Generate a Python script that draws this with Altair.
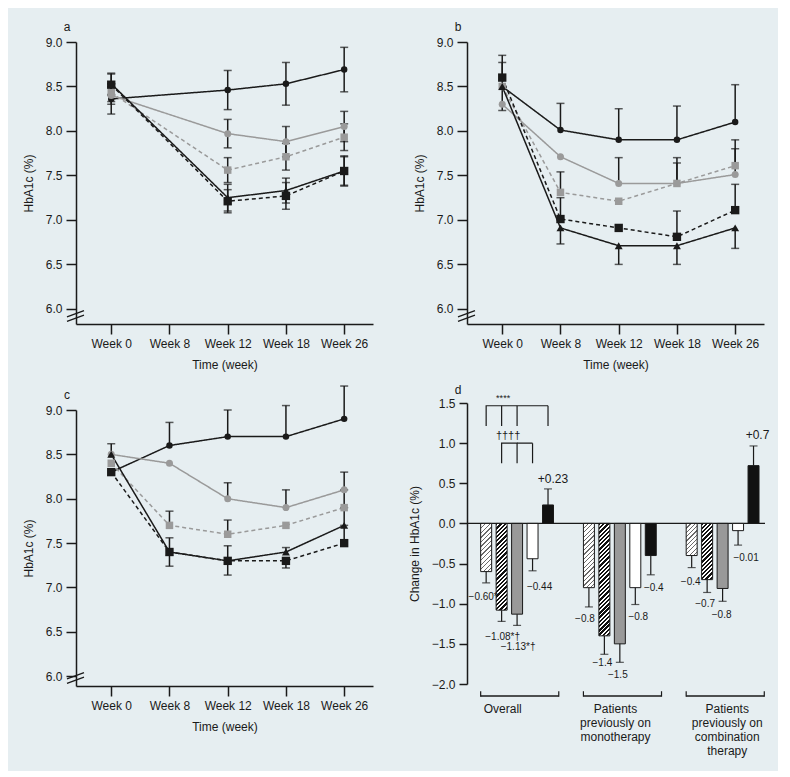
import altair as alt
import pandas as pd

# ---------------- data ----------------
WEEKS = ["Week 0", "Week 8", "Week 12", "Week 18", "Week 26"]
SERIES = ["S1", "S2", "S3", "S4", "S5"]
Y_TICKS = [6.0, 6.5, 7.0, 7.5, 8.0, 8.5, 9.0]

# panel a (no week 8 measurement)
A_MEAN = [
    [8.36, None, 8.46, 8.53, 8.69],
    [8.40, None, 7.97, 7.88, 8.05],
    [8.43, None, 7.56, 7.71, 7.93],
    [8.53, None, 7.25, 7.33, 7.55],
    [8.52, None, 7.21, 7.27, 7.55],
]
A_ERR_UP = [
    [0.17, 0, 0.22, 0.24, 0.25],
    [0.10, 0, 0.16, 0.17, 0.17],
    [0.10, 0, 0.14, 0.15, 0.15],
    [0.12, 0, 0.15, 0.14, 0.16],
    [0.12, 0, 0.13, 0.15, 0.17],
]
A_ERR_DN = A_ERR_UP

# panel b
B_MEAN = [
    [8.50, 8.01, 7.90, 7.90, 8.10],
    [8.30, 7.71, 7.41, 7.41, 7.51],
    [8.50, 7.31, 7.21, 7.41, 7.61],
    [8.50, 6.91, 6.71, 6.71, 6.91],
    [8.60, 7.01, 6.91, 6.81, 7.11],
]
B_ERR_UP = [
    [0.35, 0.30, 0.35, 0.38, 0.42],
    [0, 0, 0.29, 0.29, 0.39],
    [0, 0.23, 0, 0.23, 0.19],
    [0, 0, 0, 0, 0],
    [0.17, 0.24, 0, 0.29, 0.29],
]
B_ERR_DN = [
    [0, 0, 0, 0, 0],
    [0, 0, 0, 0, 0],
    [0, 0, 0, 0, 0],
    [0.27, 0.18, 0.21, 0.21, 0.23],
    [0, 0, 0, 0, 0],
]

# panel c
C_MEAN = [
    [8.30, 8.60, 8.70, 8.70, 8.90],
    [8.50, 8.40, 8.00, 7.90, 8.10],
    [8.40, 7.70, 7.60, 7.70, 7.90],
    [8.50, 7.40, 7.30, 7.40, 7.70],
    [8.30, 7.40, 7.30, 7.30, 7.50],
]
C_ERR_UP = [
    [0, 0.26, 0.30, 0.35, 0.37],
    [0.12, 0, 0.18, 0.20, 0.20],
    [0, 0.16, 0.16, 0, 0.20],
    [0, 0.16, 0.17, 0.05, 0.20],
    [0, 0, 0, 0, 0.20],
]
C_ERR_DN = [
    [0, 0, 0, 0, 0],
    [0, 0, 0, 0, 0],
    [0, 0, 0, 0, 0],
    [0, 0.16, 0.16, 0, 0],
    [0, 0, 0, 0.08, 0],
]

# panel d
GROUPS = ["Overall", "Mono", "Combo"]
GROUP_LABELS = ["Overall", "Patients\npreviously on\nmonotherapy",
                "Patients\npreviously on\ncombination\ntherapy"]
BARS = ["B1", "B2", "B3", "B4", "B5"]
D_OVERALL = [-0.60, -1.08, -1.13, -0.44, 0.23]
D_OVERALL_ERR = [0.14, 0.14, 0.14, 0.15, 0.20]
D_OVERALL_LABELS = ["\u22120.60*", "\u22121.08*\u2020", "\u22121.13*\u2020", "\u22120.44", "+0.23"]
D_MONO = [-0.80, -1.40, -1.50, -0.80, -0.40]
D_MONO_ERR = [0.24, 0.23, 0.23, 0.21, 0.24]
D_MONO_LABELS = ["\u22120.8", "\u22121.4", "\u22121.5", "\u22120.8", "\u22120.4"]
D_COMBO = [-0.40, -0.70, -0.81, -0.09, 0.72]
D_COMBO_ERR = [0.15, 0.16, 0.16, 0.18, 0.245]
D_COMBO_LABELS = ["\u22120.4", "\u22120.7", "\u22120.8", "\u22120.01", "+0.7"]

# ---------------- styles ----------------
BG = "#E6EEF1"
INK = "#1a1a1a"
GRAY = "#9a9a9a"
FONT = "Liberation Sans"
SERIES_COLORS = [INK, GRAY, GRAY, INK, INK]
SERIES_SHAPES = ["circle", "circle", "square", "triangle-up", "square"]
SERIES_DASH = [[1, 0], [1, 0], [4, 3], [1, 0], [4, 3]]
SERIES_SIZES = [42, 70, 45, 50, 45]

PANEL_W = 297
D_W, D_H = 298, 281

# label offsets (px) relative to bar centre / error-bar end
LBL_OFF = {
    "Overall": [(-3, 14), (1, 16), (1, 22), (7, 16), (5, -10)],
    "Mono": [(-4, 12), (-2, 9), (-2, 13), (3, 12), (3, 13)],
    "Combo": [(-1, 14), (-2, 12), (-1, 14), (8, 13), (4, -11)],
}
GROUP_LABEL_DX = [-17, -7, 2]


def one_row():
    return pd.DataFrame({"_": [0]})


def line_panel(letter, means, ups, dns, y_lo, height):
    rows, caps = [], []
    for si, s in enumerate(SERIES):
        for wi, w in enumerate(WEEKS):
            m = means[si][wi]
            if m is None:
                continue
            u, d = ups[si][wi], dns[si][wi]
            rows.append({"week": w, "idx": wi, "series": s, "mean": m,
                         "lo": round(m - d, 3), "hi": round(m + u, 3)})
            if u > 0:
                caps.append({"week": w, "cap": round(m + u, 3)})
            if d > 0:
                caps.append({"week": w, "cap": round(m - d, 3)})
    df = pd.DataFrame(rows)
    cdf = pd.DataFrame(caps)

    xs = alt.Scale(domain=WEEKS, type="point", padding=0.55, align=0.55)
    ys = alt.Scale(domain=[y_lo, 9.0], nice=False, zero=False)
    xaxis = alt.Axis(title="Time (week)", labelAngle=0)
    yaxis = alt.Axis(title="HbA1c (%)", values=Y_TICKS, format=".1f")
    X = alt.X("week:N", scale=xs, sort=WEEKS, axis=xaxis)

    def Y(f):
        return alt.Y(f, type="quantitative", scale=ys, axis=yaxis)

    color = alt.Color("series:N", scale=alt.Scale(domain=SERIES, range=SERIES_COLORS), legend=None)

    lines = alt.Chart(df).mark_line(strokeWidth=1.5).encode(
        x=X, y=Y("mean"), color=color, detail="series:N",
        order=alt.Order("idx:Q"),
        strokeDash=alt.StrokeDash("series:N", scale=alt.Scale(domain=SERIES, range=SERIES_DASH), legend=None),
    )
    err = alt.Chart(df).transform_filter("datum.hi > datum.lo").mark_rule(
        color=INK, strokeWidth=1.5).encode(x=X, y=Y("lo"), y2="hi:Q")
    capm = alt.Chart(cdf).mark_tick(color=INK, thickness=1.5, size=8).encode(x=X, y=Y("cap"))
    pts = alt.Chart(df).mark_point(filled=True, opacity=1).encode(
        x=X, y=Y("mean"), color=color,
        shape=alt.Shape("series:N", scale=alt.Scale(domain=SERIES, range=SERIES_SHAPES), legend=None),
        size=alt.Size("series:N", scale=alt.Scale(domain=SERIES, range=SERIES_SIZES), legend=None),
    )
    brk1 = alt.Chart(one_row()).mark_rule(color=INK, strokeWidth=1.3).encode(
        x=alt.value(-9), x2=alt.value(8), y=alt.datum(y_lo + 0.03), y2=alt.datum(y_lo + 0.10))
    brk2 = alt.Chart(one_row()).mark_rule(color=INK, strokeWidth=1.3).encode(
        x=alt.value(-9), x2=alt.value(8), y=alt.datum(y_lo + 0.08), y2=alt.datum(y_lo + 0.15))
    lab = alt.Chart(one_row()).mark_text(text=letter, fontSize=12, color=INK,
                                         align="center", baseline="middle").encode(
        x=alt.value(-9), y=alt.value(-15))
    return alt.layer(lines, err, capm, pts, brk1, brk2, lab).properties(width=PANEL_W, height=height)


def hatch_fill(h_px, w_px, period, frac, line_color, bg_color):
    w, h = w_px, max(h_px, 1.0)
    k = (w + h) / (w * w + h * h)
    n = max(1, int(round((w + h) / period)))
    stops = []
    for i in range(n):
        a, b, c = i / n, (i + frac) / n, (i + 1) / n
        stops += [{"offset": round(a, 5), "color": line_color},
                  {"offset": round(b, 5), "color": line_color},
                  {"offset": round(b, 5), "color": bg_color},
                  {"offset": round(c, 5), "color": bg_color}]
    return {"gradient": "linear", "x1": 0, "y1": 0, "x2": k * w, "y2": k * h, "stops": stops}


def bar_panel():
    vals = [D_OVERALL, D_MONO, D_COMBO]
    errs = [D_OVERALL_ERR, D_MONO_ERR, D_COMBO_ERR]
    labs = [D_OVERALL_LABELS, D_MONO_LABELS, D_COMBO_LABELS]
    rows = []
    for gi, g in enumerate(GROUPS):
        for bi, b in enumerate(BARS):
            v, e = vals[gi][bi], errs[gi][bi]
            end = v + e if v >= 0 else v - e
            rows.append({"group": g, "bar": b, "value": v, "end": round(end, 3),
                         "label": labs[gi][bi], "gi": gi, "bi": bi})
    df = pd.DataFrame(rows)

    xs = alt.Scale(domain=GROUPS, paddingInner=0.24, paddingOuter=0.07, align=0.95)
    xos = alt.Scale(domain=BARS, paddingInner=0.29, paddingOuter=0.17, align=0)
    ys = alt.Scale(domain=[-2.0, 1.5], nice=False, zero=False)
    yaxis = alt.Axis(title="Change in HbA1c (%)",
                     values=[-2.0, -1.5, -1.0, -0.5, 0.0, 0.5, 1.0, 1.5], format=".1f", tickSize=8)
    X = alt.X("group:N", scale=xs, axis=None)
    XO = alt.XOffset("bar:N", scale=xos)

    def Y(f):
        return alt.Y(f, type="quantitative", scale=ys, axis=yaxis)

    px_per = D_H / 3.5
    step = D_W / (3 - 0.24 + 2 * 0.07)
    band = step * 0.76
    ostep = band / (5 - 0.29 + 2 * 0.17)
    bar_w = ostep * 0.71

    layers = []
    # zero line
    layers.append(alt.Chart(one_row()).transform_calculate(z="0").mark_rule(
        color=INK, strokeWidth=1.3).encode(y=Y("z")))
    # solid-fill bars
    solid = df[df["bi"] >= 2]
    layers.append(alt.Chart(solid).mark_bar(stroke=INK, strokeWidth=1).encode(
        x=X, xOffset=XO, y=Y("value"),
        fill=alt.Fill("bar:N", scale=alt.Scale(domain=BARS, range=["#fff", "#fff", "#999999", "#ffffff", "#111111"]),
                      legend=None)))
    # hatched bars, one gradient per bar
    for _, r in df[df["bi"] < 2].iterrows():
        hpx = abs(r["value"]) * px_per
        if r["bi"] == 0:
            grad = hatch_fill(hpx, bar_w, 4.5, 0.28, "#6a6a6a", "#ffffff")
        else:
            grad = hatch_fill(hpx, bar_w, 4.2, 0.55, "#111111", "#ffffff")
        layers.append(alt.Chart(pd.DataFrame([r])).mark_bar(fill=grad, stroke=INK, strokeWidth=1).encode(
            x=X, xOffset=XO, y=Y("value")))
    # error bars
    layers.append(alt.Chart(df).mark_rule(color=INK, strokeWidth=1.2).encode(
        x=X, xOffset=XO, y=Y("value"), y2="end:Q"))
    layers.append(alt.Chart(df).mark_tick(color=INK, thickness=1.2, size=8).encode(
        x=X, xOffset=XO, y=Y("end")))
    # value labels
    for _, r in df.iterrows():
        dx, dy = LBL_OFF[r["group"]][r["bi"]]
        big = r["label"].startswith("+")
        layers.append(alt.Chart(pd.DataFrame([r])).mark_text(
            dx=dx, dy=dy, fontSize=12 if big else 10, color=INK, align="center", baseline="middle").encode(
            x=X, xOffset=XO, y=Y("end"), text="label:N"))
    # significance brackets
    br = []

    def seg(sid, style, pts):
        for o, (b, y) in enumerate(pts):
            br.append({"group": "Overall", "bar": b, "y": y, "sid": sid, "o": o, "style": style})

    seg(1, "solid", [("B1", 1.215), ("B1", 1.466), ("B3", 1.466)])
    seg(2, "dot", [("B3", 1.466), ("B5", 1.466)])
    seg(3, "solid", [("B5", 1.466), ("B5", 1.215)])
    seg(4, "solid", [("B2", 1.466), ("B2", 1.215)])
    seg(5, "solid", [("B3", 1.466), ("B3", 1.215)])
    seg(6, "solid", [("B2", 0.75), ("B2", 1.0), ("B3", 1.0), ("B3", 0.75)])
    seg(7, "dot", [("B3", 1.0), ("B4", 1.0)])
    seg(8, "solid", [("B4", 1.0), ("B4", 0.75)])
    bdf = pd.DataFrame(br)
    layers.append(alt.Chart(bdf).mark_line(color=INK, strokeWidth=1.2).encode(
        x=X, xOffset=XO, y=Y("y"), detail="sid:N", order="o:Q",
        strokeDash=alt.StrokeDash("style:N", scale=alt.Scale(domain=["solid", "dot"], range=[[1, 0], [1.2, 1.2]]),
                                  legend=None)))
    sig = pd.DataFrame({"group": ["Overall", "Overall"], "bar": ["B2", "B2"], "y": [1.566, 1.09],
                        "t": ["****", "\u2020\u2020\u2020\u2020"]})
    layers.append(alt.Chart(sig.iloc[[0]]).mark_text(fontSize=9, dx=1.5, color=INK, baseline="middle").encode(
        x=X, xOffset=XO, y=Y("y"), text="t:N"))
    layers.append(alt.Chart(sig.iloc[[1]]).mark_text(fontSize=11, dx=6.5, color=INK, baseline="middle").encode(
        x=X, xOffset=XO, y=Y("y"), text="t:N"))
    # group brackets and labels
    gdf = pd.DataFrame({"group": GROUPS, "label": GROUP_LABELS})
    layers.append(alt.Chart(gdf).transform_calculate(a="-2.14", b="-2.158").mark_rect(color=INK).encode(
        x=X, y=Y("a"), y2="b:Q"))
    for bp in (0, 1):
        layers.append(alt.Chart(gdf).transform_calculate(a="-2.158", b="-2.09").mark_rule(
            color=INK, strokeWidth=1.2).encode(
            x=alt.X("group:N", scale=xs, axis=None, bandPosition=bp), y=Y("a"), y2="b:Q"))
    for gi in range(3):
        layers.append(alt.Chart(gdf.iloc[[gi]]).transform_calculate(a="-2.245").mark_text(
            fontSize=12, color=INK, align="center", baseline="top", lineBreak="\n", lineHeight=14,
            dx=GROUP_LABEL_DX[gi]).encode(x=X, y=Y("a"), text="label:N"))
    layers.append(alt.Chart(one_row()).mark_text(text="d", fontSize=12, color=INK,
                                                 align="center", baseline="middle").encode(
        x=alt.value(-9), y=alt.value(-13)))
    return alt.layer(*layers).properties(width=D_W, height=D_H)


pa = line_panel("a", A_MEAN, A_ERR_UP, A_ERR_DN, 5.83, 282)
pb = line_panel("b", B_MEAN, B_ERR_UP, B_ERR_DN, 5.83, 282)
pc = line_panel("c", C_MEAN, C_ERR_UP, C_ERR_DN, 5.89, 276)
pd_ = bar_panel()

chart = alt.hconcat(
    alt.vconcat(pa, pc, spacing=15),
    alt.vconcat(pb, pd_, spacing=14),
    spacing=35,
).properties(
    background=BG,
    padding={"left": 14, "top": 13, "right": 8, "bottom": 14},
).configure(font=FONT).configure_view(stroke=None).configure_axis(
    domainColor=INK, domainWidth=1.5, tickColor=INK, tickWidth=1.5, tickSize=10,
    labelColor=INK, labelFont=FONT, labelFontSize=12, labelPadding=4,
    titleColor=INK, titleFont=FONT, titleFontSize=12, titleFontWeight="normal", titlePadding=10,
    grid=False,
)

chart.save("out.html", embed_options={"renderer": "svg", "actions": False})
